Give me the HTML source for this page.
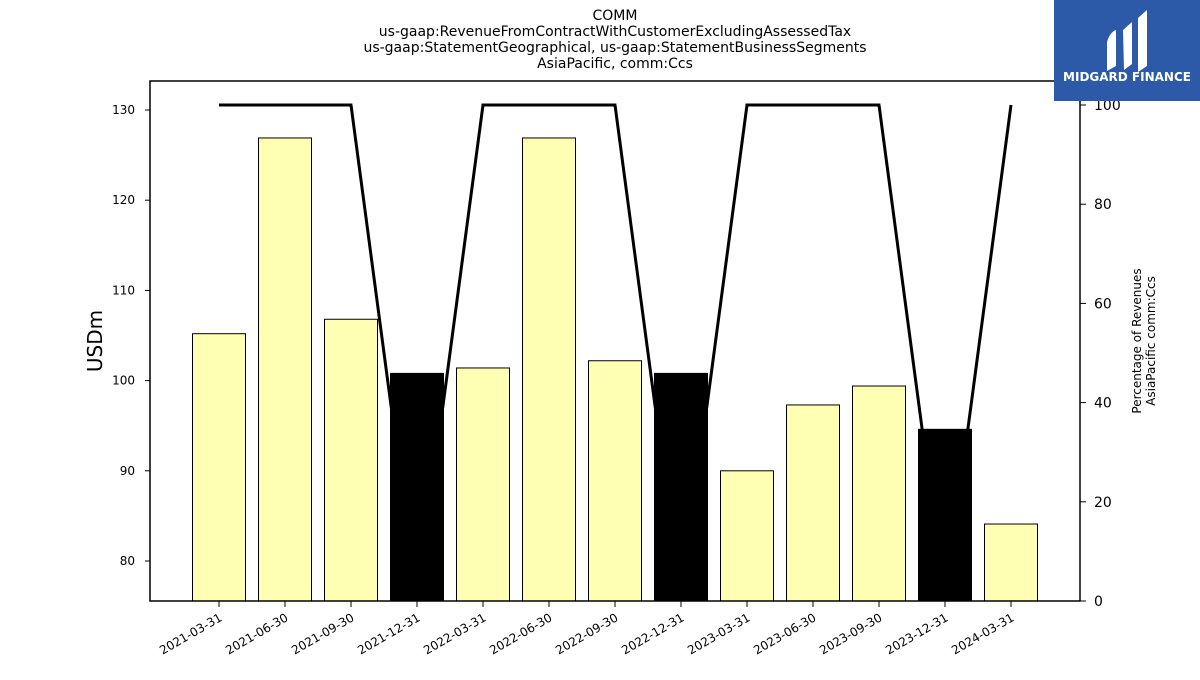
<!DOCTYPE html>
<html><head><meta charset="utf-8"><style>
body{margin:0;background:#fff;font-family:"Liberation Sans","DejaVu Sans",sans-serif}
svg text{font-family:"DejaVu Sans","Liberation Sans",sans-serif}
</style></head><body>
<svg id="chart" width="1200" height="675" viewBox="0 0 1200 675">
<g font-size="14" text-anchor="middle" fill="#000">
<text x="615" y="20">COMM</text>
<text x="615" y="36">us-gaap:RevenueFromContractWithCustomerExcludingAssessedTax</text>
<text x="615" y="52">us-gaap:StatementGeographical, us-gaap:StatementBusinessSegments</text>
<text x="615" y="68">AsiaPacific, comm:Ccs</text>
</g>
<g id="bars"></g>
<g id="line"></g>
<rect x="150" y="81" width="930" height="520" fill="none" stroke="#000" stroke-width="1.5"/>
<g id="yleft"></g><g id="yright"></g><g id="xaxis"></g>
<text x="102" y="341" font-size="20" text-anchor="middle" transform="rotate(-90 102 341)">USDm</text>
<text transform="translate(1141,341) rotate(-90)" font-size="12" text-anchor="middle"><tspan x="0" y="0">Percentage of Revenues</tspan><tspan x="0" y="14">AsiaPacific comm:Ccs</tspan></text>
<g>
<rect x="1054" y="0" width="146" height="101" fill="#2d5aa8"/>
<path d="M1107 42 Q1110 32 1116 30 L1116 66 L1107 71 Z M1123 30 L1132 22 L1132 64 L1124 70 Z M1138 18 L1147 10 L1147 66 L1138 72 Z" fill="#fff"/>
<text x="1127" y="81" font-size="12" font-weight="bold" fill="#fff" text-anchor="middle">MIDGARD FINANCE</text>
</g>
</svg>
<script>
const categories=["2021-03-31","2021-06-30","2021-09-30","2021-12-31","2022-03-31","2022-06-30","2022-09-30","2022-12-31","2023-03-31","2023-06-30","2023-09-30","2023-12-31","2024-03-31"];
const revenues=[105.2,126.9,106.8,100.8,101.4,126.9,102.2,100.8,90.0,97.3,99.4,94.6,84.1];
const isQ4=[false,false,false,true,false,false,false,true,false,false,false,true,false];
const percentages=[100,100,100,0,100,100,100,0,100,100,100,0,100];
const leftTicks=[80,90,100,110,120,130];
const rightTicks=[0,20,40,60,80,100];
const NS="http://www.w3.org/2000/svg";
const xPos=i=>219+66*i;
const yL=v=>110+(130-v)*9.02;
const yR=v=>601-v*4.96;
function mk(tag,attrs,parent){const e=document.createElementNS(NS,tag);for(const k in attrs)e.setAttribute(k,attrs[k]);parent.appendChild(e);return e;}
const bars=document.getElementById('bars');
revenues.forEach((v,i)=>{
 const r=mk('rect',{x:xPos(i)-26.5,y:yL(v),width:53,height:601-yL(v),fill:isQ4[i]?'#000':'#ffffb3',stroke:'#000','stroke-width':1},bars);
 
 
});
const lg=document.getElementById('line');
const pl=mk('polyline',{points:percentages.map((p,i)=>xPos(i)+','+yR(p)).join(' '),fill:'none',stroke:'#000','stroke-width':3},lg);


// redraw Q4 bars over line
revenues.forEach((v,i)=>{if(!isQ4[i])return;
 const r=mk('rect',{x:xPos(i)-26.5,y:yL(v),width:53,height:601-yL(v),fill:'#000'},lg);
 
 
});
const yl=document.getElementById('yleft');
leftTicks.forEach(t=>{const y=yL(t);
 const l=mk('line',{x1:145,x2:150,y1:y,y2:y,stroke:'#000'},yl);
 
 const tx=mk('text',{x:135,y:y+4,'font-size':12,'text-anchor':'end'},yl);tx.textContent=t;
 });
const yr=document.getElementById('yright');
rightTicks.forEach(t=>{const y=yR(t);
 const l=mk('line',{x1:1080,x2:1086,y1:y,y2:y,stroke:'#000'},yr);
 
 const tx=mk('text',{x:1094,y:y+5,'font-size':14},yr);tx.textContent=t;
 });
const xa=document.getElementById('xaxis');
categories.forEach((c,i)=>{const x=xPos(i);
 const l=mk('line',{x1:x,x2:x,y1:601,y2:607,stroke:'#000'},xa);
 
 const tx=mk('text',{x:x+4,y:620,'font-size':12,'text-anchor':'end',transform:`rotate(-30 ${x+4} 620)`},xa);tx.textContent=c;
 });
</script>
</body></html>
